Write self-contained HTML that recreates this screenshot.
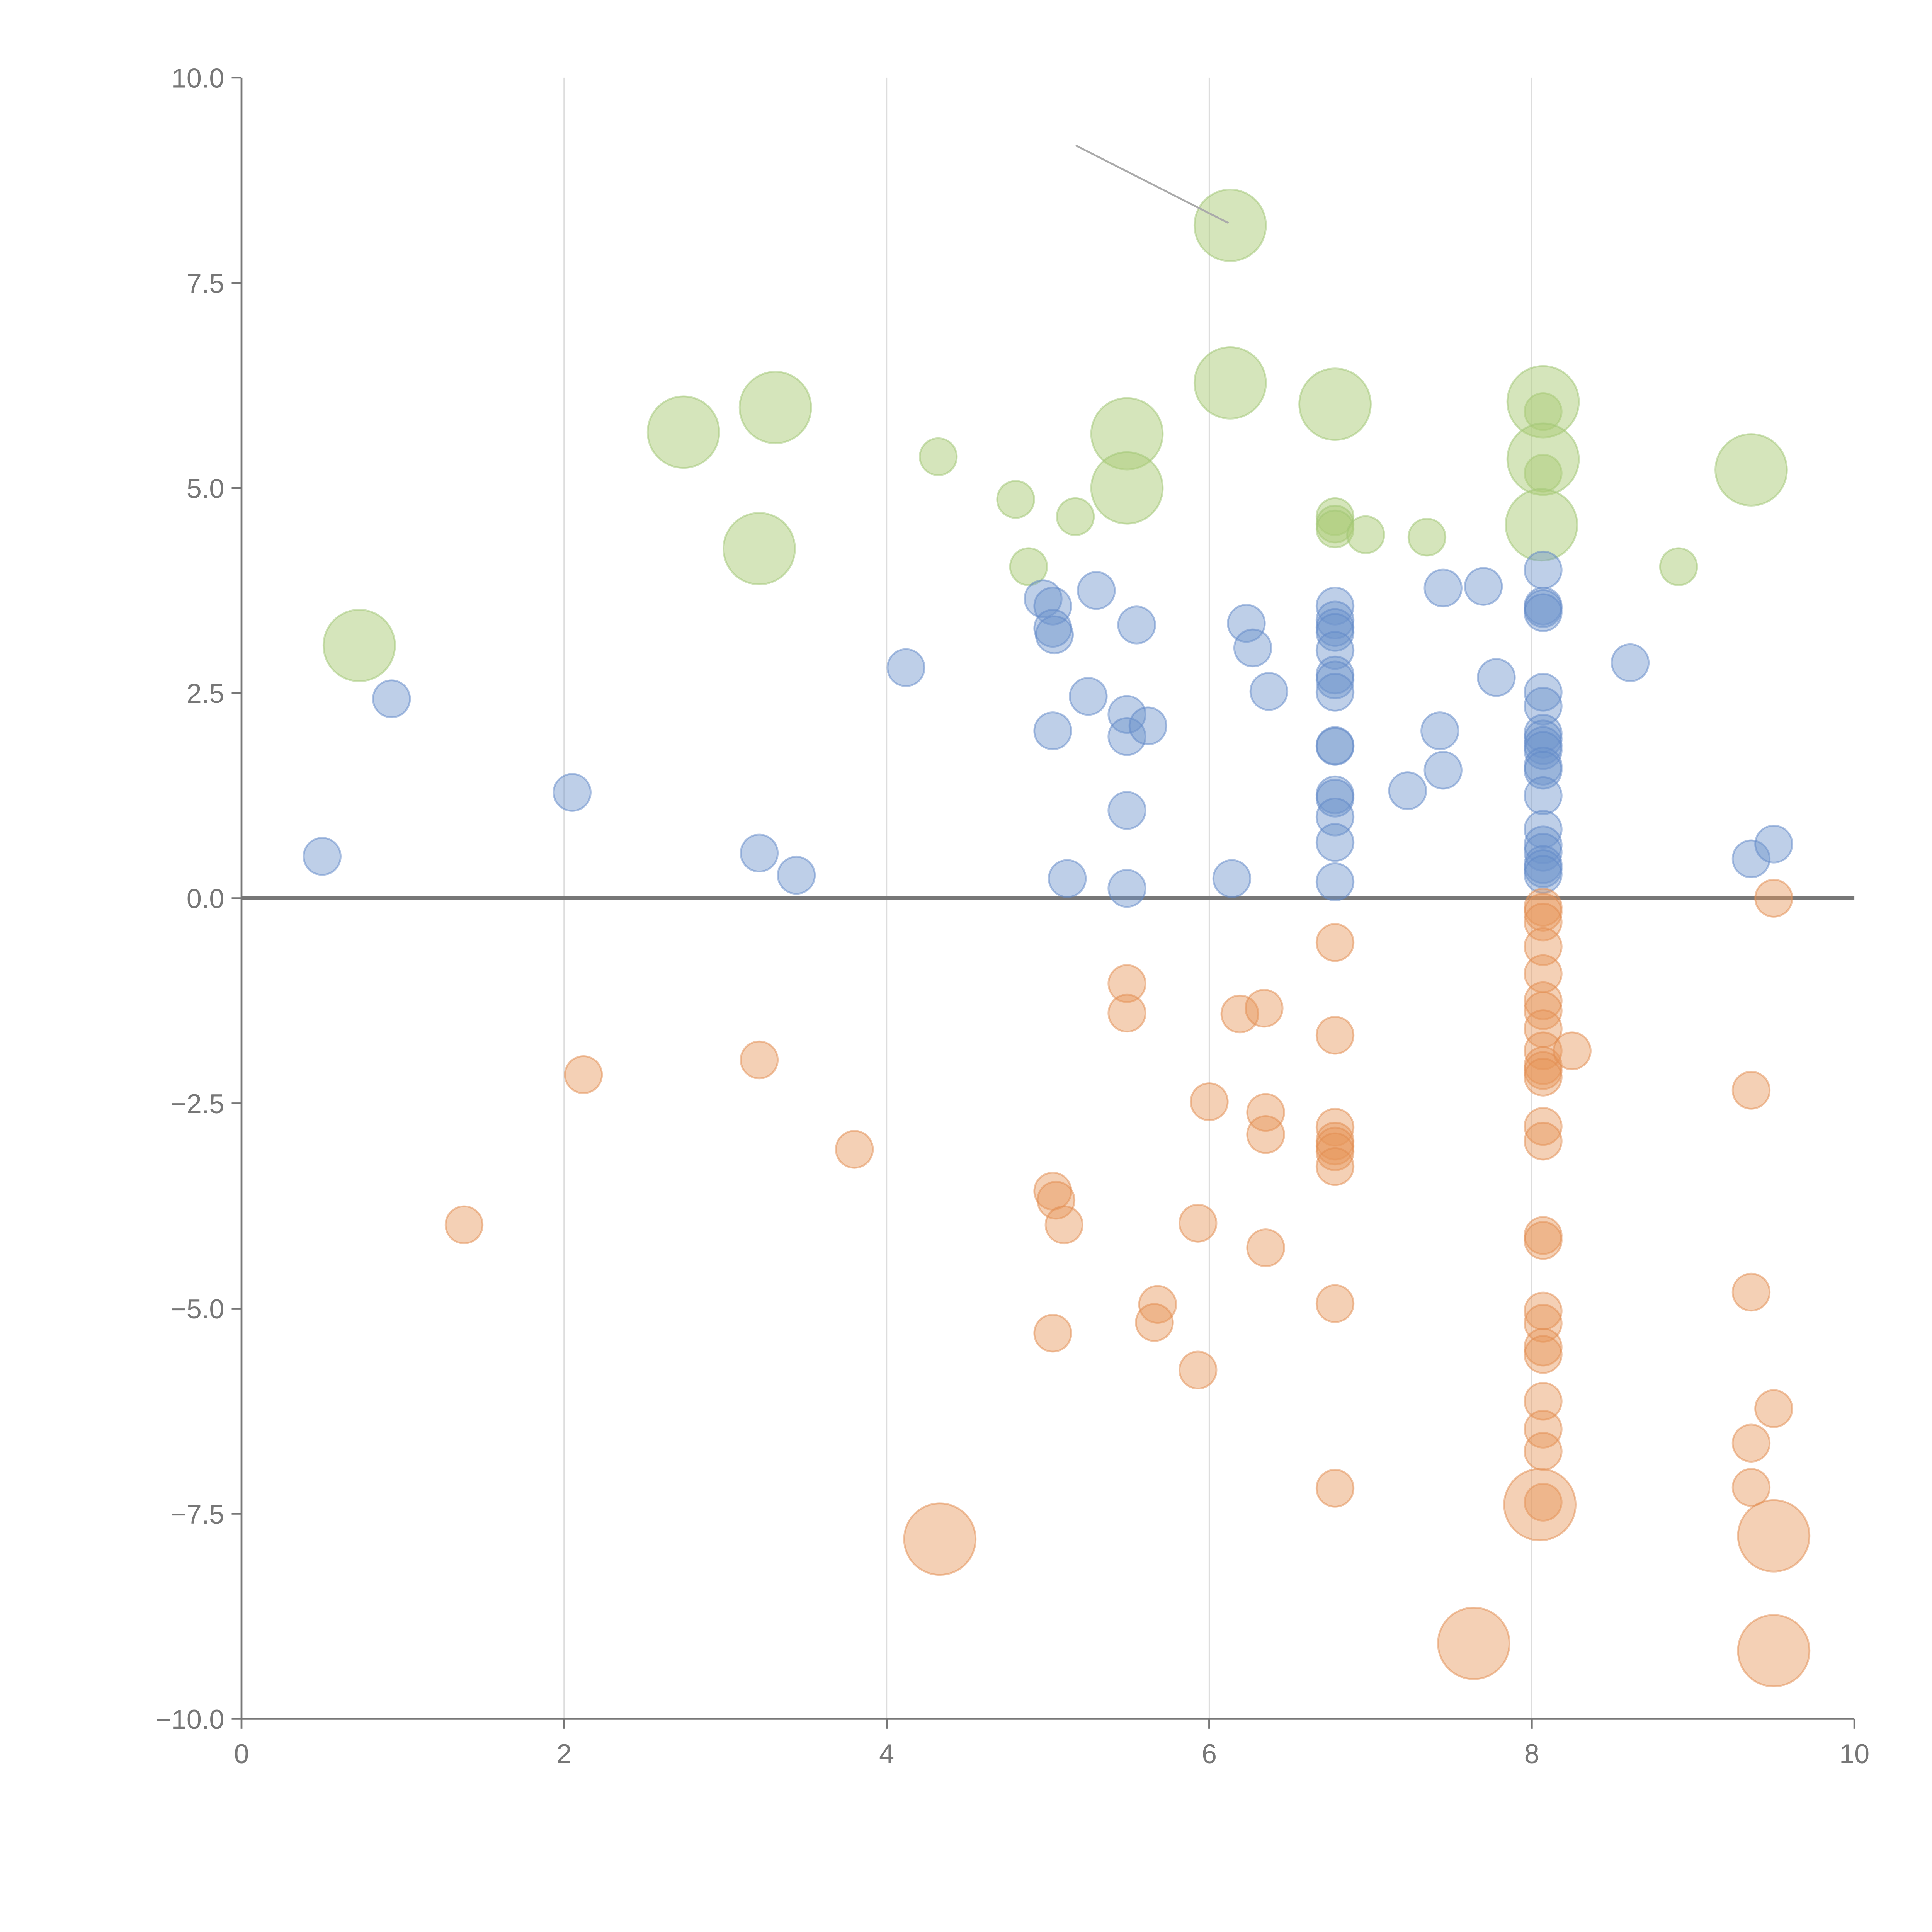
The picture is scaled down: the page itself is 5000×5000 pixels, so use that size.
<!DOCTYPE html>
<html><head><meta charset="utf-8"><style>
html,body{margin:0;padding:0;background:#fff;width:5000px;height:5000px;overflow:hidden}
svg{display:block}
text{font-family:"Liberation Sans",sans-serif;fill:#777;font-size:22px}
</style></head><body>
<svg id="chart" width="5000" height="5000" viewBox="0 0 1568 1568" preserveAspectRatio="none" xmlns="http://www.w3.org/2000/svg">
<g id="grid"></g>
<g id="axes"></g>
<g id="marks"></g>
</svg>
<script>
const xTicks=[0,2,4,6,8,10];
const xTickLabels=["0","2","4","6","8","10"];
const yTicks=[10,7.5,5,2.5,0,-2.5,-5,-7.5,-10];
const yTickLabels=["10.0","7.5","5.0","2.5","0.0","\u22122.5","\u22125.0","\u22127.5","\u221210.0"];
const blueX=[0.5,0.93,2.05,3.21,3.44,4.12,4.97,5.03,5.03,5.04,5.3,5.25,5.03,5.12,5.49,5.49,5.62,5.55,5.49,5.49,6.14,6.23,6.27,6.37,
6.78,6.78,6.78,6.78,6.78,6.78,6.78,6.78,6.78,6.78,6.78,6.78,6.78,6.78,6.78,
7.23,7.43,7.45,7.45,7.7,7.78,
8.07,8.07,8.07,8.07,8.07,8.07,8.07,8.07,8.07,8.07,8.07,8.07,8.07,8.07,8.07,8.07,8.07,8.07,8.07,
8.61,9.36,9.5];
const blueY=[0.51,2.43,1.29,0.55,0.28,2.81,3.65,3.56,3.29,3.21,3.75,2.46,2.04,0.24,2.24,1.97,2.1,3.33,1.07,0.12,0.24,3.35,3.05,2.52,
3.56,3.39,3.30,3.24,3.02,2.72,2.66,2.51,1.86,1.85,1.26,1.22,0.99,0.68,0.20,
1.31,2.04,1.56,3.78,3.8,2.69,
4.0,3.56,3.53,3.48,2.51,2.34,2.01,1.94,1.86,1.80,1.61,1.56,1.25,0.84,0.65,0.56,0.41,0.36,0.29,
2.87,0.48,0.66];
const greenX=[4.32,4.8,5.17,4.88,6.78,6.78,6.78,6.97,7.35,8.91,8.07,8.07,
0.73,2.74,3.31,3.21,5.49,5.49,6.13,6.13,6.78,8.07,8.07,8.06,9.36];
const greenY=[5.38,4.86,4.65,4.04,4.65,4.56,4.5,4.43,4.4,4.04,5.93,5.18,
3.08,5.68,5.98,4.26,5.66,5.0,8.2,6.28,6.02,6.05,5.35,4.55,5.22];
const greenSize=[1,1,1,1,1,1,1,1,1,1,1,1,2,2,2,2,2,2,2,2,2,2,2,2,2];
const orangeX=[1.38,2.12,3.21,3.8,5.03,5.05,5.1,5.03,5.49,5.49,5.68,5.66,5.93,5.93,6.0,6.19,6.34,6.35,6.35,6.35,
6.78,6.78,6.78,6.78,6.78,6.78,6.78,6.78,6.78,
8.07,8.07,8.07,8.07,8.07,8.07,8.07,8.07,8.07,8.07,8.07,8.07,8.07,8.07,8.07,8.07,8.07,8.07,8.07,8.07,8.07,8.07,8.07,8.07,
8.25,9.36,9.36,9.36,9.36,9.5,9.5,
4.33,8.05,7.64,9.5,9.5];
const orangeY=[-3.98,-2.15,-1.97,-3.06,-3.57,-3.68,-3.98,-5.3,-1.04,-1.4,-4.95,-5.17,-3.96,-5.75,-2.48,-1.41,-1.34,-2.61,-2.88,-4.26,
-0.54,-1.67,-2.79,-2.96,-3.02,-3.09,-3.27,-4.94,-7.19,
-0.11,-0.17,-0.29,-0.59,-0.92,-1.25,-1.37,-1.59,-1.86,-2.04,-2.1,-2.18,-2.78,-2.96,-4.11,-4.17,-5.03,-5.18,-5.47,-5.56,-6.13,-6.47,-6.74,-7.36,
-1.86,-2.34,-4.8,-6.64,-7.18,-6.22,0.0,
-7.81,-7.39,-9.08,-7.77,-9.17];
const orangeSize=orangeX.map((v,i)=>i>=orangeX.length-5?2:1);

const NS="http://www.w3.org/2000/svg";
const X0=196,X1=1505,Y0=1395,Y1=63;
function sx(v){return X0+(v-0)/(10-0)*(X1-X0);}
function sy(v){return Y0-(v+10)/20*(Y0-Y1);}
function mk(tag,attrs,parent){const e=document.createElementNS(NS,tag);for(const k in attrs)e.setAttribute(k,attrs[k]);parent.appendChild(e);return e;}
const grid=document.getElementById('grid'),axes=document.getElementById('axes'),marks=document.getElementById('marks');
xTicks.forEach((t,i)=>{
  if(t>0&&t<10){const g=mk('line',{x1:sx(t),x2:sx(t),y1:Y1,y2:Y0,stroke:'#ddd','stroke-width':1},grid);
  
  }
  const tk=mk('line',{x1:sx(t),x2:sx(t),y1:Y0,y2:Y0+8,stroke:'#777','stroke-width':1.5},axes);
  
  
  const tx=mk('text',{x:sx(t),y:Y0+36,'text-anchor':'middle'},axes);tx.textContent=xTickLabels[i];
  
  
});
yTicks.forEach((t,i)=>{
  const tk=mk('line',{x1:X0-8,x2:X0,y1:sy(t),y2:sy(t),stroke:'#777','stroke-width':1.5},axes);
  
  
  const tx=mk('text',{x:X0-14,y:sy(t)+8,'text-anchor':'end'},axes);tx.textContent=yTickLabels[i];
  
  
});
const ya=mk('line',{x1:X0,x2:X0,y1:Y1,y2:Y0,stroke:'#777','stroke-width':1.5},axes);


const xa=mk('line',{x1:X0,x2:X1,y1:Y0,y2:Y0,stroke:'#777','stroke-width':1.5},axes);


const zl=mk('line',{x1:X0,x2:X1,y1:sy(0),y2:sy(0),stroke:'#777','stroke-width':3},axes);


function series(xs,ys,sizes,fill,stroke,name){
  xs.forEach((x,i)=>{
    const r=sizes&&sizes[i]===2?29:15;
    const c=mk('circle',{cx:sx(x),cy:sy(ys[i]),r:r,fill:fill,stroke:stroke,'stroke-width':1.5},marks);
    
    
  });
}
series(greenX,greenY,greenSize,'rgba(172,204,120,0.5)','rgba(160,198,115,0.5)','green-bubble');
series(blueX,blueY,null,'rgba(110,148,205,0.45)','rgba(95,135,200,0.5)','blue-bubble');
series(orangeX,orangeY,orangeSize,'rgba(230,150,90,0.45)','rgba(225,140,80,0.5)','orange-bubble');
const an=mk('line',{x1:873,y1:118,x2:997,y2:181,stroke:'#aaa','stroke-width':1.5},marks);


</script>
</body></html>
